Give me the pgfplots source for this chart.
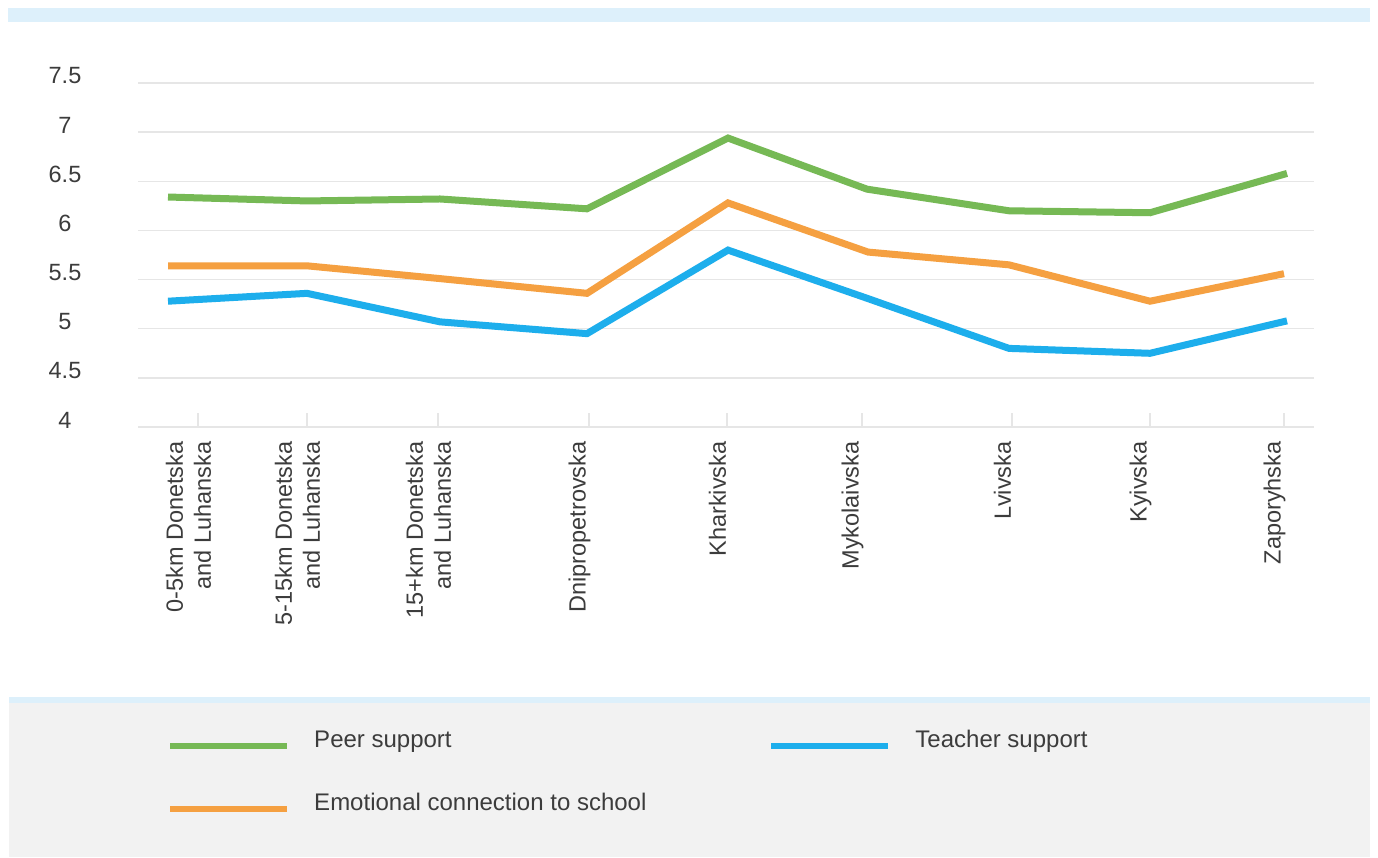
\documentclass[border=0pt]{standalone}
\usepackage{pgfplots}
\pgfplotsset{compat=1.18}
\usepackage{fontspec}
\setmainfont{Liberation Sans}
\definecolor{cgreen}{HTML}{76B955}
\definecolor{corange}{HTML}{F5A041}
\definecolor{cblue}{HTML}{1DAEEC}
\definecolor{ctext}{HTML}{3C3C3C}
\definecolor{cgrid}{HTML}{E6E6E6}
\definecolor{cstrip}{HTML}{DDF0FB}
\definecolor{cbox}{HTML}{F2F2F2}
\newcommand\lbl{\fontsize{23.5bp}{28bp}\selectfont}
\newcommand\leg{\fontsize{24bp}{28bp}\selectfont}
\begin{document}
\begin{tikzpicture}[x=1bp,y=1bp]
\useasboundingbox (0,0) rectangle (1378,-857);
\fill[white] (0,0) rectangle (1378,-857);
\fill[cstrip] (8,-8) rectangle (1370,-22);
\fill[cbox] (9,-697) rectangle (1370,-857);
\fill[cstrip] (9,-697) rectangle (1370,-703);
\begin{axis}[
  at={(138bp,-427bp)}, anchor=south west,
  scale only axis, width=1176bp, height=344bp,
  xmin=138, xmax=1314, ymin=4, ymax=7.5,
  axis line style={draw=none},
  ytick={4,4.5,5,5.5,6,6.5,7,7.5},
  yticklabels={4,4.5,5,5.5,6,6.5,7,7.5},
  ymajorgrids,
  grid style={cgrid, line width=1.5bp},
  ytick style={draw=none},
  xtick={198,307,438,589,727,862,1012,1150,1284},
  xticklabels={{0-5km Donetska\\and Luhanska},{5-15km Donetska\\and Luhanska},{15+km Donetska\\and Luhanska},Dnipropetrovska,Kharkivska,Mykolaivska,Lvivska,Kyivska,Zaporyhska},
  xtick pos=bottom,
  tick align=inside,
  major tick length=14bp,
  xtick style={draw=cgrid, line width=1.5bp},
  yticklabel style={font=\lbl, text=ctext, anchor=center, xshift=-73bp, yshift=7bp},
  xticklabel style={font=\lbl, text=ctext, xshift=-9.5bp, yshift=-11bp, rotate=90, anchor=east, align=right},
  legend columns=2,
  legend cell align=left,
  legend style={at={(axis description cs:0.0247,-0.875)}, anchor=north west, draw=none, fill=none, inner sep=0pt, font=\leg, text=ctext, row sep=40bp, /tikz/column 1/.style={column sep=22bp}, /tikz/column 2/.style={column sep=120bp}, /tikz/column 3/.style={column sep=22bp}},
  legend image code/.code={\draw[#1, line width=6bp] (0bp,-6bp) -- (117bp,-6bp);},
]
\addplot[cgreen, line width=7bp] coordinates {(168,6.34) (307,6.30) (440,6.32) (587,6.22) (728,6.94) (867,6.42) (1009,6.20) (1150,6.18) (1287,6.58)};
\addlegendentry{Peer support}
\addplot[cblue, line width=7bp] coordinates {(168,5.28) (307,5.36) (440,5.07) (587,4.95) (728,5.80) (867,5.31) (1009,4.80) (1150,4.75) (1287,5.08)};
\addlegendentry{Teacher support}
\addplot[corange, line width=7bp] coordinates {(168,5.64) (307,5.64) (440,5.51) (587,5.36) (728,6.28) (868,5.78) (1009,5.65) (1150,5.28) (1284,5.56)};
\addlegendentry{Emotional connection to school}
\end{axis}
\end{tikzpicture}
\end{document}
